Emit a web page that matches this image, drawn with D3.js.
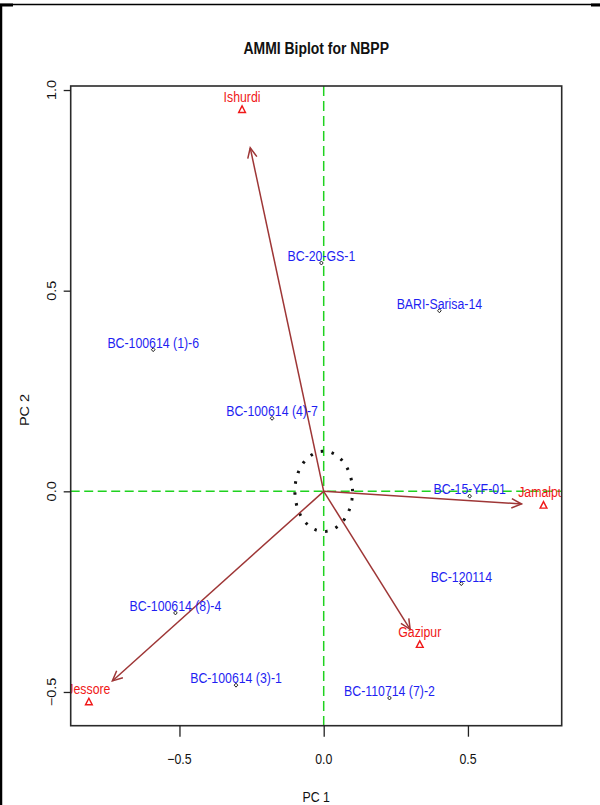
<!DOCTYPE html>
<html>
<head>
<meta charset="utf-8">
<script src="https://cdn.jsdelivr.net/npm/d3@7"></script>
<style>
  html, body { margin: 0; padding: 0; background: #fff; }
  svg { display: block; }
  text { font-family: "Liberation Sans", Arial, sans-serif; }
</style>
</head>
<body>
<script>
// AMMI biplot scores (PC 1 / PC 2) for NBPP
const genotypes = ["BC-20-GS-1", "BARI-Sarisa-14", "BC-100614 (1)-6", "BC-100614 (4)-7",
                   "BC-15-YF-01", "BC-120114", "BC-100614 (8)-4", "BC-100614 (3)-1", "BC-110714 (7)-2"];
const genoPC1 = [-0.008, 0.401, -0.591, -0.179, 0.506, 0.477, -0.514, -0.304, 0.228];
const genoPC2 = [0.569, 0.450, 0.353, 0.182, -0.012, -0.230, -0.303, -0.483, -0.515];

const environments = ["Ishurdi", "Jamalpur", "Gazipur", "Jessore"];
const envPC1 = [-0.283, 0.762, 0.333, -0.814];
const envPC2 = [0.951, -0.035, -0.382, -0.525];

const xTicks = [-0.5, 0.0, 0.5];
const yTicks = [-0.5, 0.0, 0.5, 1.0];

const W = 600, H = 805;
const plot = { left: 70.7, right: 561.7, top: 86, bottom: 725.7 };
const SX = 0.85;           // horizontal squeeze of glyphs
const FONT = 14.5;

const svg = d3.select("body").append("svg").attr("width", W).attr("height", H);
svg.append("rect").attr("width", W).attr("height", H).attr("fill", "#fff");

// R-style 4% range expansion
function padded(vals) {
  const [lo, hi] = d3.extent(vals);
  const e = (hi - lo) * 0.04;
  return [lo - e, hi + e];
}
const x = d3.scaleLinear().domain(padded(genoPC1.concat(envPC1))).range([plot.left, plot.right]);
const y = d3.scaleLinear().domain(padded(genoPC2.concat(envPC2))).range([plot.bottom, plot.top]);

function label(g, tx, ty, str, opts = {}) {
  const t = g.append("text")
    .attr("transform", `translate(${tx},${ty}) scale(${opts.sx || SX},1)` + (opts.rotate ? ` rotate(${opts.rotate})` : ""))
    .attr("text-anchor", opts.anchor || "middle")
    .attr("font-size", opts.size || FONT)
    .attr("fill", opts.fill || "#111")
    .text(str);
  if (opts.bold) t.attr("font-weight", "bold");
  return t;
}

// outer frame
svg.append("line").attr("x1", 1).attr("x2", 1).attr("y1", 4).attr("y2", H).attr("stroke", "#000").attr("stroke-width", 2.5);
svg.append("line").attr("x1", 0).attr("x2", W).attr("y1", 4.5).attr("y2", 4.5).attr("stroke", "#000").attr("stroke-width", 1.5);
svg.append("line").attr("x1", 0).attr("x2", 13).attr("y1", 5).attr("y2", 5).attr("stroke", "#000").attr("stroke-width", 3);
svg.append("line").attr("x1", 591).attr("x2", W).attr("y1", 5).attr("y2", 5).attr("stroke", "#000").attr("stroke-width", 3);

// title
label(svg, (plot.left + plot.right) / 2, 54, "AMMI Biplot for NBPP", { size: 16.8, sx: 0.83, bold: true, fill: "#111" });

// clip to plotting region
svg.append("clipPath").attr("id", "plotclip").append("rect")
  .attr("x", plot.left).attr("y", plot.top)
  .attr("width", plot.right - plot.left).attr("height", plot.bottom - plot.top);
const g = svg.append("g").attr("clip-path", "url(#plotclip)");

// reference lines through the origin
const green = "#1fd21f";
g.append("line").attr("x1", x(0)).attr("x2", x(0)).attr("y1", plot.top).attr("y2", plot.bottom)
  .attr("stroke", green).attr("stroke-width", 1.5).attr("stroke-dasharray", "10,5");
g.append("line").attr("x1", plot.left).attr("x2", plot.right).attr("y1", y(0)).attr("y2", y(0))
  .attr("stroke", green).attr("stroke-width", 1.5).attr("stroke-dasharray", "9,4.5");

// dotted circle of radius 0.1 about the origin
const circ = d3.range(0, 361, 3).map(a => [x(0.1 * Math.cos(a * Math.PI / 180)), y(0.1 * Math.sin(a * Math.PI / 180))]);
g.append("path").attr("d", d3.line()(circ)).attr("fill", "none")
  .attr("stroke", "#111").attr("stroke-width", 3).attr("stroke-dasharray", "2.5,8.5");

// environment vectors
const brown = "#9e3636";
environments.forEach((e, i) => {
  const x0 = x(0), y0 = y(0);
  const x1 = x(0.9 * envPC1[i]), y1 = y(0.9 * envPC2[i]);
  g.append("line").attr("x1", x0).attr("y1", y0).attr("x2", x1).attr("y2", y1)
    .attr("stroke", brown).attr("stroke-width", 1.5);
  const ang = Math.atan2(y1 - y0, x1 - x0);
  const L = 11, A = 25 * Math.PI / 180;
  const p1 = [x1 - L * Math.cos(ang - A), y1 - L * Math.sin(ang - A)];
  const p2 = [x1 - L * Math.cos(ang + A), y1 - L * Math.sin(ang + A)];
  g.append("path").attr("d", `M${p1[0]},${p1[1]}L${x1},${y1}L${p2[0]},${p2[1]}`)
    .attr("fill", "none").attr("stroke", brown).attr("stroke-width", 1.5);
});

// genotype points and labels
genotypes.forEach((name, i) => {
  const px = x(genoPC1[i]), py = y(genoPC2[i]);
  g.append("path").attr("d", `M${px},${py - 2}L${px + 1.8},${py}L${px},${py + 2}L${px - 1.8},${py}Z`)
    .attr("fill", "none").attr("stroke", "#222").attr("stroke-width", 1);
  label(g, px, py - 2, name, { fill: "#1f1ff2" });
});

// environment points and labels
environments.forEach((name, i) => {
  const px = x(envPC1[i]), py = y(envPC2[i]);
  g.append("path").attr("d", `M${px},${py - 3.8}L${px + 3.4},${py + 2.8}L${px - 3.4},${py + 2.8}Z`)
    .attr("fill", "none").attr("stroke", "#f01818").attr("stroke-width", 1.4);
  label(g, px, py - 8, name, { fill: "#f01818" });
});

// box
svg.append("rect").attr("x", plot.left).attr("y", plot.top)
  .attr("width", plot.right - plot.left).attr("height", plot.bottom - plot.top)
  .attr("fill", "none").attr("stroke", "#2a2a2a").attr("stroke-width", 1.6);

// axes
const xAxis = svg.append("g").attr("transform", `translate(0,${plot.bottom})`)
  .call(d3.axisBottom(x).tickValues(xTicks).tickSize(11).tickFormat(() => ""));
const yAxis = svg.append("g").attr("transform", `translate(${plot.left},0)`)
  .call(d3.axisLeft(y).tickValues(yTicks).tickSize(7).tickFormat(() => ""));
[xAxis, yAxis].forEach(a => {
  a.select(".domain").remove();
  a.selectAll(".tick line").attr("stroke", "#222").attr("stroke-width", 1.3);
});
xTicks.forEach(v => label(svg, x(v), 764, d3.format(".1f")(v), { size: FONT }));
yTicks.forEach(v => label(svg, 55.5, y(v), d3.format(".1f")(v), { size: FONT, rotate: -90 }));

// axis titles
label(svg, (plot.left + plot.right) / 2, 802, "PC 1", { size: FONT });
label(svg, 28.5, 410, "PC 2", { size: FONT, rotate: -90 });
</script>
</body>
</html>
